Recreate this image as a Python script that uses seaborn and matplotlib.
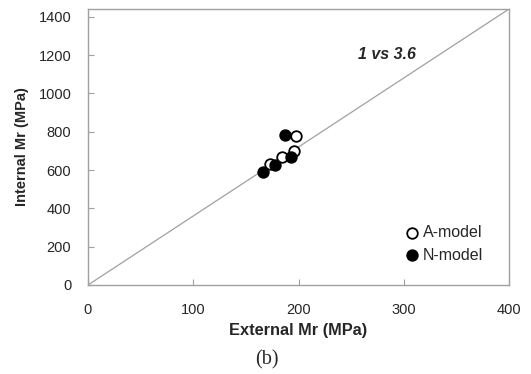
import matplotlib
matplotlib.use("Agg")
import matplotlib.pyplot as plt
import seaborn as sns
import pandas as pd

a_external = [197.3, 196.0, 184.0, 172.9]
a_internal = [778, 701, 670, 632]
n_external = [187.2, 192.6, 177.7, 166.0]
n_internal = [783, 670, 627, 592]
ratio = 3.6
x_ticks = [0, 100, 200, 300, 400]
y_ticks = [0, 200, 400, 600, 800, 1000, 1200, 1400]

sns.set_style("white")
plt.rcParams['font.family'] = ['Liberation Sans', 'DejaVu Sans']

fig = plt.figure(figsize=(5.31, 3.74), dpi=100)
ax = fig.add_axes([88/531, 1 - 285/374, 421/531, 276/374])

dfa = pd.DataFrame({"External": a_external, "Internal": a_internal})
dfn = pd.DataFrame({"External": n_external, "Internal": n_internal})

ax.axline((0, 0), slope=ratio, color="#a0a0a0", lw=0.9, zorder=1)
sns.scatterplot(data=dfa, x="External", y="Internal", ax=ax, s=58,
                facecolor="white", edgecolor="black", linewidth=1.3,
                label="A-model", zorder=3)
sns.scatterplot(data=dfn, x="External", y="Internal", ax=ax, s=58,
                facecolor="black", edgecolor="black", linewidth=1.3,
                label="N-model", zorder=4)

ax.set_xlim(0, 400)
ax.set_ylim(0, 400 * ratio)
ax.set_xticks(x_ticks)
ax.set_yticks(y_ticks)
ax.tick_params(direction="in", length=4, width=0.8, color="#a0a0a0",
               labelsize=10.5, pad=12, bottom=True, left=True)
ax.tick_params(axis="x", pad=13)
for sp in ax.spines.values():
    sp.set_color("#a0a0a0")
    sp.set_linewidth(1.0)

ax.set_xlabel("External Mr (MPa)", fontsize=11.8, fontweight="bold", labelpad=4)
ax.set_ylabel("Internal Mr (MPa)", fontsize=10.5, fontweight="bold", labelpad=7)

ax.text(284, 1201, "1 vs 3.6", fontsize=11.5, fontweight="bold",
        fontstyle="italic", ha="center", va="center")

leg = ax.legend(loc="center left", bbox_to_anchor=(306/421, 1 - 235/276),
                frameon=False, fontsize=11.5, handletextpad=0.0,
                labelspacing=0.45, borderpad=0, handlelength=1.3)

fig.text(267/531, 1 - 360/374, "(b)", fontsize=14.5, ha="center", va="center",
         family=["Liberation Serif", "DejaVu Serif"])

fig.savefig("out.png", dpi=100)
